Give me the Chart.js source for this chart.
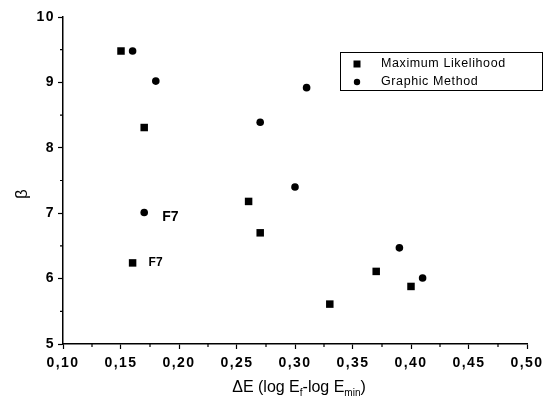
<!DOCTYPE html>
<html>
<head>
<meta charset="utf-8">
<script src="https://cdn.jsdelivr.net/npm/chart.js@4/dist/chart.umd.min.js"></script>
<style>
  body { margin: 0; background: #fff; }
  canvas { display: block; }
</style>
</head>
<body>
<canvas id="myChart" width="550" height="403"></canvas>
<script>
// values
const mlX = [0.15, 0.17, 0.16, 0.26, 0.27, 0.33, 0.37, 0.40];
const mlY = [9.48, 8.31, 6.24, 7.18, 6.70, 5.61, 6.11, 5.88];
const gmX = [0.16, 0.18, 0.17, 0.27, 0.31, 0.30, 0.39, 0.41];
const gmY = [9.48, 9.02, 7.01, 8.39, 8.92, 7.40, 6.47, 6.01];
const seriesNames = ["Maximum Likelihood", "Graphic Method"];
// point labels: [dataset index, point index, text]
const pointNotes = [[1, 2, "F7"], [0, 2, "F7"]];
const xMinor = [0.125, 0.175, 0.225, 0.275, 0.325, 0.375, 0.425, 0.475];
const yMinor = [5.5, 6.5, 7.5, 8.5, 9.5];

const FONT = "'Liberation Sans', Arial, sans-serif";

const toPoints = (xs, ys) => xs.map((x, i) => ({ x: x, y: ys[i] }));

const extras = {
  id: "extras",
  beforeDraw(chart) {
    chart.ctx.letterSpacing = "1.5px";
  },
  afterDraw(chart) {
    const ctx = chart.ctx;
    const xs = chart.scales.x;
    const ys = chart.scales.y;
    const area = chart.chartArea;
    ctx.save();
    ctx.letterSpacing = "0px";

    // minor ticks
    ctx.strokeStyle = "#000";
    ctx.lineWidth = 1.2;
    ctx.beginPath();
    xMinor.forEach((v) => {
      const px = xs.getPixelForValue(v);
      ctx.moveTo(px, area.bottom);
      ctx.lineTo(px, area.bottom + 3);
    });
    yMinor.forEach((v) => {
      const py = ys.getPixelForValue(v);
      ctx.moveTo(area.left, py);
      ctx.lineTo(area.left - 3, py);
    });
    ctx.stroke();

    // point notes
    ctx.fillStyle = "#000";
    ctx.textBaseline = "middle";
    ctx.textAlign = "left";
    pointNotes.forEach(([d, i, txt], k) => {
      const el = chart.getDatasetMeta(d).data[i];
      ctx.font = (k === 0 ? "bold 14px " : "bold 12px ") + FONT;
      ctx.fillText(txt, el.x + (k === 0 ? 18 : 16), el.y + (k === 0 ? 5 : 0));
    });

    // legend box
    const lx = 340, ly = 52, lw = 202, lh = 38;
    ctx.lineWidth = 1;
    ctx.strokeRect(lx + 0.5, ly + 0.5, lw, lh);
    ctx.font = "12.5px " + FONT;
    ctx.letterSpacing = "0.6px";
    ctx.fillRect(357 - 3.5, 64 - 3.5, 7, 7);
    ctx.fillText(seriesNames[0], 381, 64);
    ctx.beginPath();
    ctx.arc(357, 82, 3.2, 0, Math.PI * 2);
    ctx.fill();
    ctx.fillText(seriesNames[1], 381, 82);

    // y title
    ctx.letterSpacing = "0px";
    ctx.save();
    ctx.translate(22, 194);
    ctx.rotate(-Math.PI / 2);
    ctx.textAlign = "center";
    ctx.font = "17px " + FONT;
    ctx.fillText("β", 0, 0);
    ctx.restore();

    // x title with subscripts
    const parts = [
      ["ΔE (log E", false], ["f", true], ["-log E", false], ["min", true], [")", false]
    ];
    const big = "16px " + FONT, small = "10px " + FONT;
    let total = 0;
    parts.forEach(([t, sub]) => {
      ctx.font = sub ? small : big;
      total += ctx.measureText(t).width;
    });
    let cx = 299 - total / 2;
    ctx.textBaseline = "alphabetic";
    parts.forEach(([t, sub]) => {
      ctx.font = sub ? small : big;
      ctx.fillText(t, cx, sub ? 396 : 392);
      cx += ctx.measureText(t).width;
    });
    ctx.restore();
  }
};

const axisCommon = {
  grid: { display: true, drawOnChartArea: false, tickLength: 5, color: "#000", tickWidth: 1.2 },
  border: { display: true, color: "#000", width: 1.5 },
  ticks: { color: "#000", font: { family: FONT, size: 14, weight: "bold" } }
};

new Chart(document.getElementById("myChart").getContext("2d"), {
  type: "scatter",
  data: {
    datasets: [
      {
        label: seriesNames[0],
        data: toPoints(mlX, mlY),
        pointStyle: "rect",
        pointRadius: 5.3,
        backgroundColor: "#000",
        borderWidth: 0
      },
      {
        label: seriesNames[1],
        data: toPoints(gmX, gmY),
        pointStyle: "circle",
        pointRadius: 3.8,
        backgroundColor: "#000",
        borderWidth: 0
      }
    ]
  },
  options: {
    responsive: false,
    animation: false,
    layout: { padding: { left: 0, top: 17, right: 23, bottom: 0 } },
    plugins: { legend: { display: false }, tooltip: { enabled: false } },
    scales: {
      x: {
        ...axisCommon,
        min: 0.1,
        max: 0.5,
        afterFit: (s) => { s.height = 59; },
        ticks: {
          ...axisCommon.ticks,
          stepSize: 0.05,
          padding: 6,
          maxRotation: 0,
          callback: (v) => v.toFixed(2).replace(".", ",")
        }
      },
      y: {
        ...axisCommon,
        min: 5,
        max: 10,
        afterFit: (s) => { s.width = 63; },
        ticks: { ...axisCommon.ticks, stepSize: 1, padding: 3 }
      }
    }
  },
  plugins: [extras]
});
</script>
</body>
</html>
